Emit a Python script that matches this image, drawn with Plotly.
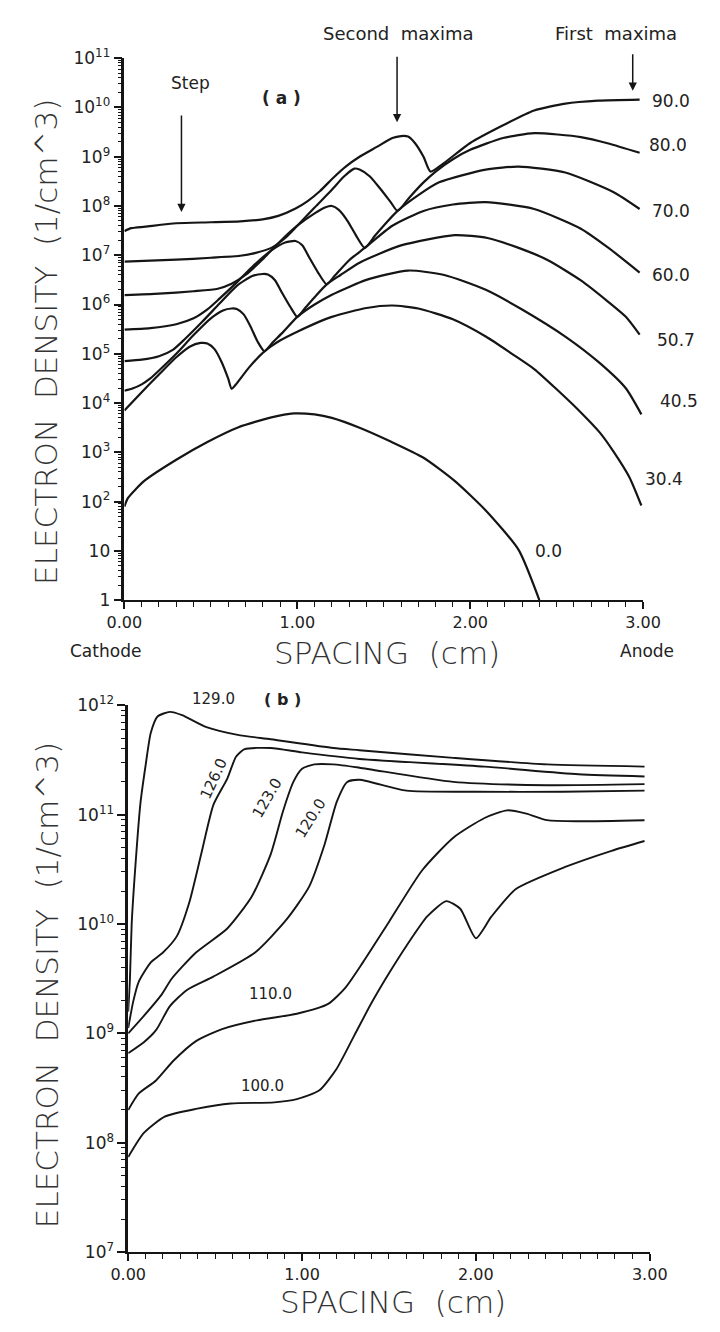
import plotly.graph_objects as go

# ---------------- panel (a): spacing (cm) and log10 electron density ----------------
x_90 = [0, 0.04, 0.12, 0.3, 0.5, 0.67, 0.8, 0.89, 0.99, 1.06, 1.13, 1.21, 1.28, 1.36, 1.46, 1.55, 1.6, 1.64, 1.68, 1.73, 1.77, 1.84, 2.0, 2.19, 2.37, 2.55, 2.74, 2.98]
lg_90 = [7.49, 7.55, 7.58, 7.65, 7.67, 7.69, 7.73, 7.8, 7.95, 8.1, 8.3, 8.58, 8.8, 9.0, 9.2, 9.38, 9.42, 9.41, 9.28, 9.0, 8.7, 8.85, 9.28, 9.64, 9.94, 10.08, 10.14, 10.16]

x_80 = [0, 0.3, 0.5, 0.67, 0.76, 0.85, 0.93, 1.0, 1.1, 1.2, 1.27, 1.33, 1.36, 1.42, 1.48, 1.54, 1.58, 1.65, 1.73, 1.8, 1.9, 2.0, 2.19, 2.37, 2.64, 2.8, 2.98]
lg_80 = [6.87, 6.91, 6.95, 6.99, 7.05, 7.15, 7.35, 7.6, 7.97, 8.33, 8.6, 8.76, 8.74, 8.6, 8.35, 8.08, 7.9, 8.18, 8.48, 8.7, 8.95, 9.14, 9.38, 9.48, 9.4, 9.27, 9.08]

x_70 = [0, 0.2, 0.4, 0.54, 0.62, 0.7, 0.8, 0.9, 1.0, 1.1, 1.16, 1.2, 1.24, 1.29, 1.34, 1.39, 1.45, 1.52, 1.58, 1.7, 1.82, 2.09, 2.28, 2.55, 2.83, 2.98]
lg_70 = [6.19, 6.22, 6.27, 6.32, 6.42, 6.6, 6.92, 7.28, 7.6, 7.85, 7.97, 8.0, 7.92, 7.7, 7.4, 7.15, 7.4, 7.68, 7.9, 8.22, 8.48, 8.74, 8.8, 8.68, 8.28, 7.94]

x_60 = [0, 0.15, 0.3, 0.4, 0.48, 0.55, 0.65, 0.75, 0.85, 0.93, 0.99, 1.03, 1.07, 1.12, 1.17, 1.22, 1.3, 1.39, 1.55, 1.73, 1.9, 2.09, 2.37, 2.64, 2.8, 2.98]
lg_60 = [5.49, 5.52, 5.6, 5.72, 5.9, 6.12, 6.45, 6.8, 7.1, 7.26, 7.29, 7.2, 6.95, 6.65, 6.41, 6.6, 6.9, 7.15, 7.6, 7.9, 8.03, 8.08, 7.94, 7.54, 7.15, 6.65]

x_507 = [0, 0.1, 0.2, 0.28, 0.35, 0.45, 0.55, 0.65, 0.74, 0.8, 0.83, 0.87, 0.91, 0.96, 1.0, 1.05, 1.1, 1.17, 1.25, 1.36, 1.6, 1.91, 2.1, 2.28, 2.45, 2.64, 2.8, 2.9, 2.98]
lg_507 = [4.85, 4.88, 4.95, 5.08, 5.3, 5.65, 6.02, 6.38, 6.58, 6.62, 6.61, 6.5, 6.25, 5.95, 5.75, 5.95, 6.15, 6.41, 6.6, 6.85, 7.2, 7.41, 7.35, 7.15, 6.9, 6.49, 6.05, 5.75, 5.39]

x_405 = [0, 0.05, 0.1, 0.15, 0.2, 0.3, 0.4, 0.5, 0.57, 0.62, 0.65, 0.69, 0.73, 0.77, 0.81, 0.85, 0.92, 1.0, 1.1, 1.2, 1.4, 1.64, 1.85, 2.09, 2.3, 2.55, 2.75, 2.9, 2.99]
lg_405 = [4.25, 4.3, 4.38, 4.5, 4.66, 5.0, 5.38, 5.72, 5.88, 5.92, 5.91, 5.8, 5.55, 5.25, 5.05, 5.2, 5.45, 5.75, 6.0, 6.2, 6.5, 6.69, 6.6, 6.3, 5.9, 5.35, 4.81, 4.3, 3.77]

x_304 = [0, 0.1, 0.2, 0.3, 0.38, 0.44, 0.48, 0.52, 0.56, 0.6, 0.62, 0.65, 0.72, 0.81, 0.9, 1.0, 1.2, 1.4, 1.55, 1.7, 1.9, 2.09, 2.25, 2.37, 2.5, 2.64, 2.75, 2.83, 2.92, 2.99]
lg_304 = [3.85, 4.22, 4.58, 4.93, 5.15, 5.22, 5.21, 5.1, 4.85, 4.5, 4.29, 4.4, 4.72, 5.05, 5.27, 5.45, 5.75, 5.93, 5.98, 5.92, 5.7, 5.35, 4.98, 4.69, 4.28, 3.81, 3.4, 3.01, 2.5, 1.92]

x_00 = [0, 0.02, 0.115, 0.3, 0.48, 0.66, 0.85, 0.98, 1.1, 1.2, 1.36, 1.54, 1.73, 1.91, 2.09, 2.28, 2.4]
lg_00 = [1.9, 2.07, 2.42, 2.85, 3.21, 3.51, 3.71, 3.79, 3.77, 3.7, 3.5, 3.22, 2.89, 2.42, 1.82, 1.02, 0.0]

curves_a = [("90.0", x_90, lg_90), ("80.0", x_80, lg_80), ("70.0", x_70, lg_70),
            ("60.0", x_60, lg_60), ("50.7", x_507, lg_507), ("40.5", x_405, lg_405),
            ("30.4", x_304, lg_304), ("0.0", x_00, lg_00)]

# ---------------- panel (b) ----------------
x_129 = [0, 0.01, 0.02, 0.04, 0.07, 0.1, 0.13, 0.17, 0.24, 0.31, 0.45, 0.63, 0.82, 1.18, 1.33, 1.87, 2.41, 2.97]
lg_129 = [9.2, 9.5, 10.0, 10.5, 11.1, 11.45, 11.75, 11.9, 11.94, 11.91, 11.8, 11.73, 11.69, 11.61, 11.59, 11.52, 11.46, 11.44]

x_126 = [0, 0.03, 0.06, 0.13, 0.2, 0.28, 0.35, 0.42, 0.49, 0.57, 0.62, 0.67, 0.82, 1.0, 1.33, 2.05, 2.59, 2.97]
lg_126 = [9.05, 9.3, 9.47, 9.65, 9.74, 9.89, 10.19, 10.64, 11.09, 11.33, 11.53, 11.6, 11.61, 11.57, 11.51, 11.44, 11.37, 11.35]

x_123 = [0, 0.09, 0.19, 0.25, 0.39, 0.57, 0.71, 0.82, 0.89, 0.95, 1.0, 1.07, 1.18, 1.33, 1.87, 2.41, 2.97]
lg_123 = [9.0, 9.16, 9.35, 9.5, 9.74, 9.96, 10.25, 10.64, 11.03, 11.3, 11.42, 11.46, 11.46, 11.43, 11.3, 11.27, 11.28]

x_120 = [0, 0.09, 0.16, 0.24, 0.34, 0.49, 0.73, 0.91, 1.04, 1.13, 1.2, 1.26, 1.33, 1.6, 2.0, 2.5, 2.97]
lg_120 = [8.82, 8.92, 9.03, 9.25, 9.4, 9.52, 9.74, 10.04, 10.34, 10.73, 11.12, 11.3, 11.32, 11.22, 11.21, 11.21, 11.22]

x_110 = [0, 0.06, 0.16, 0.26, 0.39, 0.54, 0.74, 0.97, 1.15, 1.25, 1.35, 1.5, 1.69, 1.87, 2.05, 2.18, 2.29, 2.41, 2.59, 2.97]
lg_110 = [8.3, 8.45, 8.57, 8.75, 8.93, 9.04, 9.12, 9.18, 9.27, 9.42, 9.65, 10.02, 10.49, 10.79, 10.97, 11.04, 11.01, 10.95, 10.94, 10.95]

x_100 = [0, 0.09, 0.21, 0.39, 0.59, 0.84, 0.97, 1.1, 1.2, 1.3, 1.4, 1.5, 1.6, 1.72, 1.83, 1.91, 2.0, 2.09, 2.23, 2.51, 2.78, 2.97]
lg_100 = [7.87, 8.09, 8.24, 8.31, 8.36, 8.37, 8.4, 8.48, 8.68, 8.98, 9.28, 9.55, 9.8, 10.07, 10.21, 10.14, 9.87, 10.07, 10.32, 10.52, 10.67, 10.76]

curves_b = [("129.0", x_129, lg_129), ("126.0", x_126, lg_126), ("123.0", x_123, lg_123),
            ("120.0", x_120, lg_120), ("110.0", x_110, lg_110), ("100.0", x_100, lg_100)]

x_ticks = [0, 1, 2, 3]
x_ticktext = ["0.00", "1.00", "2.00", "3.00"]
ya_exps = list(range(0, 12))
ya_text = ["1", "10"] + ["10<sup>%d</sup>" % k for k in range(2, 12)]
yb_exps = list(range(7, 13))
yb_text = ["10<sup>%d</sup>" % k for k in yb_exps]

INK = "#151515"
FONT = "DejaVu Sans"

fig = go.Figure()
for name, xs, lg in curves_a:
    fig.add_trace(go.Scatter(x=xs, y=[10 ** v for v in lg], mode="lines", name=name,
                             line=dict(color=INK, width=2.2, shape="spline", smoothing=0.6),
                             xaxis="x", yaxis="y", showlegend=False))
for name, xs, lg in curves_b:
    fig.add_trace(go.Scatter(x=xs, y=[10 ** v for v in lg], mode="lines", name=name,
                             line=dict(color=INK, width=1.9, shape="spline", smoothing=0.6),
                             xaxis="x2", yaxis="y2", showlegend=False))

W, H = 720, 1332
def px(v):
    return v / W
def py(v):
    return 1 - v / H

xaxis_common = dict(range=[0, 3], showline=True, linecolor=INK, linewidth=2, ticks="outside",
                    tickcolor=INK, tickwidth=1.5, ticklen=7, showgrid=False, zeroline=False,
                    tickvals=x_ticks, ticktext=x_ticktext,
                    tickfont=dict(family=FONT, size=16, color="#222"),
                    minor=dict(dtick=0.1, ticks="outside", ticklen=5, tickcolor=INK, tickwidth=1.2, showgrid=False))

def yaxis_log(exps, texts, lo, hi):
    minor_vals = [m * 10 ** k for k in range(lo, hi) for m in range(2, 10)]
    return dict(type="log", range=[lo, hi], showline=True, linecolor=INK, linewidth=2.5,
                ticks="outside", tickcolor=INK, tickwidth=2, ticklen=8, showgrid=False, zeroline=False,
                tickvals=[10 ** k for k in exps], ticktext=texts,
                tickfont=dict(family=FONT, size=17, color="#222"),
                minor=dict(tickvals=minor_vals, ticks="outside", ticklen=4, tickcolor=INK, tickwidth=1.2, showgrid=False))

fig.update_layout(
    width=W, height=H, margin=dict(l=0, r=0, t=0, b=0),
    paper_bgcolor="white", plot_bgcolor="white",
    xaxis=dict(domain=[px(112), px(658)], anchor="y", **xaxis_common),
    yaxis=dict(domain=[py(598), py(47)], anchor="x", **yaxis_log(ya_exps, ya_text, 0, 11)),
    xaxis2=dict(domain=[px(116), px(665)], anchor="y2", **xaxis_common),
    yaxis2=dict(domain=[py(1261), py(705)], anchor="x2", **yaxis_log(yb_exps, yb_text, 7, 12)),
)

ann = []
def note(**kw):
    kw.setdefault("showarrow", False)
    kw.setdefault("xanchor", "center")
    kw.setdefault("yanchor", "middle")
    ann.append(kw)

lab_font = dict(family=FONT, size=17, color="#222")
# panel (a) curve labels, anchored at the right end of the axis and shifted in pixels
for txt, lv, shift in [("90.0", 10.14, 7), ("80.0", 9.24, 4), ("70.0", 7.9, 7), ("60.0", 6.6, 7),
                       ("50.7", 5.29, 12), ("40.5", 4.05, 15), ("30.4", 2.45, 0)]:
    note(x=3, y=lv, xref="x", yref="y", text=txt, xanchor="left", xshift=shift, font=lab_font)
note(x=2.45, y=1.0, xref="x", yref="y", text="0.0", font=lab_font)
note(x=0.385, y=10.5, xref="x", yref="y", text="Step", font=lab_font)
note(x=0.906, y=10.2, xref="x", yref="y", text="<b>( a )</b>", font=lab_font)
note(x=px(400), y=py(22), xref="paper", yref="paper", text="Second  maxima",
     font=dict(family=FONT, size=18, color="#222"))
note(x=px(629), y=py(22), xref="paper", yref="paper", text="First  maxima",
     font=dict(family=FONT, size=18, color="#222"))
# arrows
for xv, lv, ay in [(0.33, 7.88, -98), (1.577, 9.70, -67), (2.94, 10.34, -38)]:
    ann.append(dict(x=xv, y=lv, xref="x", yref="y", ax=0, ay=ay, text="", showarrow=True,
                    arrowhead=2, arrowsize=1.1, arrowwidth=1.5, arrowcolor=INK))
note(x=px(92), y=py(650), xref="paper", yref="paper", text="Cathode", font=lab_font)
note(x=px(662), y=py(650), xref="paper", yref="paper", text="Anode", font=lab_font)
title_font = dict(family=FONT, size=31, color="#333", weight=200)
note(x=px(388), y=py(652), xref="paper", yref="paper", text="SPACING  (cm)", font=title_font)
note(x=px(30), y=py(336), xref="paper", yref="paper", text="ELECTRON  DENSITY  (1/cm^3)",
     textangle=-90, font=title_font)
note(x=px(395), y=py(1312), xref="paper", yref="paper", text="SPACING  (cm)", font=title_font)
note(x=px(30), y=py(990), xref="paper", yref="paper", text="ELECTRON  DENSITY  (1/cm^3)",
     textangle=-90, font=title_font)
# panel (b) labels
small = dict(family=FONT, size=15, color="#222")
note(x=0.49, y=12, xref="x2", yref="y2", text="129.0", yshift=6, font=small)
note(x=0.89, y=12, xref="x2", yref="y2", text="<b>( b )</b>", yshift=6,
     font=dict(family=FONT, size=16, color="#222"))
for txt, xv, lv, ang in [("126.0", 0.49, 11.33, -65), ("123.0", 0.80, 11.15, -60), ("120.0", 1.05, 10.97, -58)]:
    note(x=xv, y=lv, xref="x2", yref="y2", text=txt, textangle=ang, font=small)
note(x=0.82, y=9.36, xref="x2", yref="y2", text="110.0", font=small)
note(x=0.77, y=8.52, xref="x2", yref="y2", text="100.0", font=small)

fig.update_layout(annotations=ann)
fig.write_html("out.html")
